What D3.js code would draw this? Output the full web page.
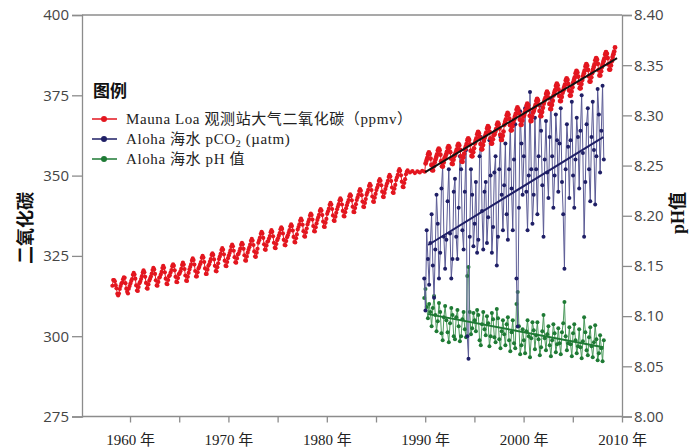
<!DOCTYPE html>
<html>
<head>
<meta charset="utf-8">
<script src="https://cdn.jsdelivr.net/npm/d3@7"></script>
<style>
  body { margin: 0; background: #fff; }
  svg { display: block; }
  .tick-label { font-family: "Open Sans", "Liberation Sans", sans-serif; font-size: 15px; fill: #454545; }
  .year-label { font-family: "Liberation Serif", "Noto Sans CJK SC", serif; font-size: 15px; fill: #222; }
  .legend-text { font-family: "Liberation Serif", "Noto Sans CJK SC", serif; font-size: 15px; fill: #222; letter-spacing: 0.6px; }
</style>
</head>
<body>
<div id="chart"></div>
<script>
// Mauna Loa monthly CO2 (ppmv), Mar 1958 .. Mar 1988
const co2Start1 = 1958 + 2 / 12;
const co2Monthly1 = [
  315.7, 317.5, 317.5, 317.1, 315.9, 314.9, 313.2, 312.7, 313.3, 314.7,
  315.6, 316.4, 316.7, 317.7, 318.3, 318.2, 316.5, 314.8, 313.8, 313.3, 314.8, 315.6,
  316.4, 317.2, 317.8, 319.1, 319.7, 319.2, 317.9, 315.8, 314.2, 314.1, 315.3, 316.5,
  317.0, 317.8, 318.7, 319.8, 320.5, 319.9, 318.5, 316.6, 314.9, 314.8, 316.1, 317.3,
  317.9, 318.6, 319.5, 320.6, 321.3, 320.8, 319.4, 317.4, 315.8, 315.7, 316.9, 318.2,
  318.4, 319.2, 320.0, 321.2, 321.9, 321.3, 319.9, 317.9, 316.3, 316.2, 317.5, 318.7,
  319.0, 319.8, 320.6, 321.8, 322.4, 321.9, 320.5, 318.5, 316.9, 316.8, 318.1, 319.3,
  319.5, 320.2, 321.0, 322.2, 322.9, 322.3, 320.9, 318.9, 317.3, 317.2, 318.5, 319.7,
  320.8, 321.6, 322.4, 323.6, 324.2, 323.7, 322.3, 320.3, 318.6, 318.6, 319.9, 321.1,
  321.6, 322.4, 323.1, 324.4, 325.0, 324.5, 323.1, 321.1, 319.4, 319.4, 320.7, 321.9,
  322.4, 323.2, 324.0, 325.3, 325.8, 325.3, 323.9, 321.9, 320.3, 320.2, 321.5, 322.7,
  324.0, 324.8, 325.6, 326.8, 327.4, 326.9, 325.5, 323.5, 321.9, 321.8, 323.1, 324.3,
  325.1, 325.9, 326.7, 327.9, 328.5, 328.0, 326.6, 324.6, 323.0, 322.9, 324.2, 325.4,
  325.7, 326.5, 327.3, 328.5, 329.1, 328.6, 327.2, 325.2, 323.6, 323.5, 324.8, 326.0,
  326.9, 327.7, 328.5, 329.7, 330.3, 329.8, 328.4, 326.4, 324.8, 324.7, 326.0, 327.2,
  329.1, 329.9, 330.7, 331.9, 332.5, 332.0, 330.6, 328.6, 327.0, 326.9, 328.2, 329.4,
  329.6, 330.4, 331.2, 332.4, 333.0, 332.5, 331.1, 329.1, 327.5, 327.4, 328.7, 329.9,
  330.5, 331.3, 332.1, 333.3, 333.9, 333.4, 332.0, 330.0, 328.4, 328.3, 329.6, 330.8,
  331.4, 332.2, 333.0, 334.2, 334.8, 334.3, 332.9, 330.9, 329.3, 329.2, 330.5, 331.7,
  333.2, 334.0, 334.8, 336.0, 336.6, 336.1, 334.7, 332.7, 331.1, 331.0, 332.3, 333.5,
  334.8, 335.6, 336.4, 337.6, 338.2, 337.7, 336.3, 334.3, 332.7, 332.6, 333.9, 335.1,
  336.2, 337.0, 337.8, 339.0, 339.6, 339.1, 337.7, 335.7, 334.1, 334.0, 335.3, 336.5,
  338.1, 338.9, 339.7, 340.9, 341.5, 341.0, 339.6, 337.6, 336.0, 335.9, 337.2, 338.4,
  339.5, 340.3, 341.1, 342.3, 342.9, 342.4, 341.0, 339.0, 337.4, 337.3, 338.6, 339.8,
  340.8, 341.6, 342.4, 343.6, 344.2, 343.7, 342.3, 340.3, 338.7, 338.6, 339.9, 341.1,
  342.4, 343.2, 344.0, 345.2, 345.8, 345.3, 343.9, 341.9, 340.3, 340.2, 341.5, 342.7,
  344.0, 344.8, 345.6, 346.8, 347.4, 346.9, 345.5, 343.5, 341.9, 341.8, 343.1, 344.3,
  345.5, 346.3, 347.1, 348.3, 348.9, 348.4, 347.0, 345.0, 343.4, 343.3, 344.6, 345.8,
  346.8, 347.6, 348.4, 349.6, 350.2, 349.7, 348.3, 346.3, 344.7, 344.6, 345.9, 347.1,
  348.6, 349.4, 350.2, 351.4, 352.0, 351.5, 350.1, 348.1, 346.5, 346.4, 347.7, 348.9,
  350.4, 351.2, 351.6
];
// sparse flat stretch 1988-1990
const co2GapYears = [1988.45, 1988.7, 1988.95, 1989.2, 1989.45, 1989.7, 1989.95];
const co2GapValues = [351.0, 351.4, 350.8, 351.3, 351.0, 351.5, 351.2];
// Mauna Loa monthly CO2, Jan 1990 .. Apr 2009
const co2Start2 = 1990 + 0.5 / 12;
const co2Monthly2 = [
  353.8, 354.6, 355.4, 356.6, 357.2, 356.7, 355.3, 353.3, 351.7, 351.6, 352.9, 354.1,
  355.0, 355.8, 356.6, 357.8, 358.4, 357.9, 356.5, 354.5, 352.9, 352.8, 354.1, 355.3,
  355.8, 356.6, 357.4, 358.6, 359.2, 358.7, 357.3, 355.3, 353.7, 353.6, 354.9, 356.1,
  356.5, 357.3, 358.1, 359.3, 359.9, 359.4, 358.0, 356.0, 354.4, 354.3, 355.6, 356.8,
  358.2, 359.0, 359.8, 361.0, 361.6, 361.1, 359.7, 357.7, 356.1, 356.0, 357.3, 358.5,
  360.0, 360.8, 361.6, 362.9, 363.6, 363.1, 361.8, 359.8, 358.2, 358.2, 359.5, 360.8,
  361.8, 362.6, 363.4, 364.7, 365.4, 364.9, 363.6, 361.6, 360.0, 360.0, 361.3, 362.6,
  362.9, 363.7, 364.5, 365.8, 366.5, 366.0, 364.7, 362.7, 361.1, 361.1, 362.4, 363.7,
  365.8, 366.7, 367.5, 368.8, 369.5, 369.0, 367.7, 365.7, 364.1, 364.1, 365.4, 366.7,
  367.5, 368.4, 369.2, 370.5, 371.2, 370.7, 369.4, 367.4, 365.8, 365.8, 367.1, 368.4,
  368.7, 369.6, 370.4, 371.7, 372.4, 371.9, 370.6, 368.6, 367.0, 367.0, 368.3, 369.6,
  370.2, 371.1, 371.9, 373.2, 373.9, 373.4, 372.1, 370.1, 368.5, 368.5, 369.8, 371.1,
  372.4, 373.3, 374.1, 375.4, 376.1, 375.6, 374.3, 372.3, 370.7, 370.7, 372.0, 373.3,
  374.9, 375.8, 376.6, 377.9, 378.6, 378.1, 376.8, 374.8, 373.2, 373.2, 374.5, 375.8,
  376.6, 377.5, 378.3, 379.6, 380.3, 379.8, 378.5, 376.5, 374.9, 374.9, 376.2, 377.5,
  378.9, 379.8, 380.6, 381.9, 382.6, 382.1, 380.8, 378.8, 377.2, 377.2, 378.5, 379.8,
  381.0, 381.9, 382.7, 384.0, 384.7, 384.2, 382.9, 380.9, 379.3, 379.3, 380.6, 381.9,
  382.9, 383.8, 384.6, 385.9, 386.6, 386.1, 384.8, 382.8, 381.2, 381.2, 382.5, 383.8,
  384.7, 385.6, 386.4, 387.7, 388.4, 387.9, 386.6, 384.6, 383.0, 383.0, 384.3, 385.6,
  386.9, 387.8, 388.6, 389.9
];

// Station ALOHA cruises (about 8 per year)
const alohaStart = 1989.9;
const alohaStep = 0.125;
const pco2 = [
  318, 308,
  333, 324, 316, 329, 338, 322, 312, 327,
  344, 335, 318, 326, 346, 353, 331, 321,
  330, 342, 352, 332, 318, 324, 345, 349,
  331, 324, 340, 356, 352, 333, 327, 345,
  358, 300, 293, 331, 352, 344, 328, 335,
  348, 326, 330, 356, 362, 339, 327, 345,
  348, 329, 337, 361, 350, 326, 334, 351,
  356, 322, 331, 352, 362, 344, 333, 347,
  360, 338, 330, 352, 366, 346, 333, 355,
  366, 318, 303, 340, 370, 360, 344, 356,
  371, 345, 333, 350, 376, 352, 335, 344,
  368, 352, 338, 356, 372, 364, 347, 331,
  355, 367, 351, 343, 362, 374, 356, 340,
  350, 369, 361, 345, 360, 371, 348, 338,
  321, 352, 366, 359, 343, 361, 373, 350,
  340, 355, 368, 362, 346, 364, 375, 357,
  331, 348, 366, 371, 352, 342, 362, 373,
  358, 341, 356, 377, 369, 351, 364, 378,
  355
];
const ph = [
  8.118, 8.127,
  8.109, 8.098, 8.112, 8.104, 8.090, 8.108, 8.120, 8.101,
  8.085, 8.095, 8.113, 8.104, 8.083, 8.076, 8.099, 8.110,
  8.096, 8.084, 8.074, 8.093, 8.108, 8.101, 8.080, 8.077,
  8.099, 8.106, 8.090, 8.075, 8.080, 8.097, 8.104, 8.087,
  8.079, 8.140, 8.149, 8.104, 8.082, 8.088, 8.103, 8.096,
  8.085, 8.106, 8.101, 8.076, 8.071, 8.092, 8.104, 8.087,
  8.081, 8.100, 8.093, 8.070, 8.080, 8.103, 8.097, 8.079,
  8.074, 8.107, 8.098, 8.077, 8.068, 8.085, 8.096, 8.082,
  8.071, 8.092, 8.099, 8.076, 8.065, 8.084, 8.096, 8.073,
  8.068, 8.112, 8.124, 8.090, 8.062, 8.071, 8.087, 8.076,
  8.063, 8.085, 8.096, 8.080, 8.059, 8.078, 8.094, 8.086,
  8.067, 8.081, 8.094, 8.077, 8.061, 8.069, 8.085, 8.101,
  8.078, 8.066, 8.082, 8.090, 8.071, 8.060, 8.076, 8.092,
  8.083, 8.064, 8.072, 8.088, 8.073, 8.062, 8.084, 8.093,
  8.114, 8.080, 8.066, 8.073, 8.089, 8.072, 8.060, 8.083,
  8.092, 8.076, 8.063, 8.070, 8.087, 8.069, 8.058, 8.075,
  8.099, 8.084, 8.066, 8.061, 8.079, 8.089, 8.070, 8.059,
  8.074, 8.091, 8.077, 8.056, 8.063, 8.081, 8.068, 8.055,
  8.076
];

// linear trends (end points)
const trendCo2Years = [1990.0, 2009.5];
const trendCo2 = [351.1, 386.6];
const trendPco2Years = [1990.3, 2008.1];
const trendPco2 = [328.4, 362.0];
const trendPhYears = [1990.3, 2008.1];
const trendPh = [8.102, 8.069];

const leftTicks = [275, 300, 325, 350, 375, 400];
const rightTicks = [8.00, 8.05, 8.10, 8.15, 8.20, 8.25, 8.30, 8.35, 8.40];
const yearTicks = [1960, 1970, 1980, 1990, 2000, 2010];
const minorYearTicks = [1960, 1965, 1970, 1975, 1980, 1985, 1990, 1995, 2000, 2005, 2010];

const legendLabels = ["Mauna Loa 观测站大气二氧化碳（ppmv）", "Aloha 海水 pCO", "Aloha 海水 pH 值"];

const red = "#e3161f", navy = "#1f1f66", navyLine = "#5b5b95", green = "#1e7a34", greenLine = "#4b9a5c";
const axisGray = "#8c8c8c";

const width = 690, height = 447;
const svg = d3.select("#chart").append("svg")
    .attr("width", width)
    .attr("height", height);

const x = d3.scaleLinear().domain([1955.12, 2010]).range([82, 622]);
const yL = d3.scaleLinear().domain([275, 400]).range([416.5, 15]);
const yR = d3.scaleLinear().domain([8.0, 8.4]).range([416.5, 15]);

// build point lists
const co2A = co2Monthly1.map((v, i) => [co2Start1 + (i + 0.5) / 12, v]);
const co2Gap = co2GapYears.map((t, i) => [t, co2GapValues[i]]);
const co2B = co2Monthly2.map((v, i) => [co2Start2 + i / 12, v]);
const co2All = co2A.concat(co2Gap, co2B);
const pco2Pts = pco2.map((v, i) => [alohaStart + i * alohaStep, v]);
const phPts = ph.map((v, i) => [alohaStart + i * alohaStep, v]);

const lineL = d3.line().x(d => x(d[0])).y(d => yL(d[1]));
const lineR = d3.line().x(d => x(d[0])).y(d => yR(d[1]));

// frame: top line
svg.append("line")
    .attr("x1", x(1955.12)).attr("x2", x(2010))
    .attr("y1", yL(400)).attr("y2", yL(400))
    .attr("stroke", axisGray).attr("stroke-width", 1.3);

// pH series (drawn first, sits under pCO2)
svg.append("path")
    .datum(phPts)
    .attr("d", lineR)
    .attr("fill", "none")
    .attr("stroke", greenLine)
    .attr("stroke-width", 1);
svg.append("g").selectAll("circle")
    .data(phPts)
    .enter().append("circle")
    .attr("cx", d => x(d[0]))
    .attr("cy", d => yR(d[1]))
    .attr("r", 2)
    .attr("fill", green);

// pCO2 series
svg.append("path")
    .datum(pco2Pts)
    .attr("d", lineL)
    .attr("fill", "none")
    .attr("stroke", navyLine)
    .attr("stroke-width", 1);
svg.append("g").selectAll("circle")
    .data(pco2Pts)
    .enter().append("circle")
    .attr("cx", d => x(d[0]))
    .attr("cy", d => yL(d[1]))
    .attr("r", 2)
    .attr("fill", navy);

// Mauna Loa CO2
svg.append("path")
    .datum(co2All)
    .attr("d", lineL)
    .attr("fill", "none")
    .attr("stroke", red)
    .attr("stroke-width", 1);
svg.append("g").selectAll("circle")
    .data(co2All)
    .enter().append("circle")
    .attr("cx", d => x(d[0]))
    .attr("cy", d => yL(d[1]))
    .attr("r", d => d[0] >= 1990 ? 2.4 : 2.1)
    .attr("fill", red);

// trend lines
svg.append("path")
    .datum(trendPhYears.map((t, i) => [t, trendPh[i]]))
    .attr("d", lineR)
    .attr("stroke", green).attr("stroke-width", 2).attr("fill", "none");
svg.append("path")
    .datum(trendPco2Years.map((t, i) => [t, trendPco2[i]]))
    .attr("d", lineL)
    .attr("stroke", navy).attr("stroke-width", 2).attr("fill", "none");
svg.append("path")
    .datum(trendCo2Years.map((t, i) => [t, trendCo2[i]]))
    .attr("d", lineL)
    .attr("stroke", "#111").attr("stroke-width", 2).attr("fill", "none");

// left axis
const gL = svg.append("g")
    .attr("transform", "translate(" + x(1955.12) + ",0)")
    .call(d3.axisLeft(yL).tickValues(leftTicks).tickSize(10).tickPadding(3).tickFormat(d3.format("d")));
// right axis
const gR = svg.append("g")
    .attr("transform", "translate(" + x(2010) + ",0)")
    .call(d3.axisRight(yR).tickValues(rightTicks).tickSize(10).tickPadding(2).tickFormat(d3.format(".2f")));
// bottom axis
const gB = svg.append("g")
    .attr("transform", "translate(0," + yL(275) + ")")
    .call(d3.axisBottom(x).tickValues(minorYearTicks).tickSize(6).tickFormat(""));
svg.append("g")
    .attr("transform", "translate(0," + yL(275) + ")")
    .call(d3.axisBottom(x).tickValues(yearTicks).tickSize(0).tickPadding(18).tickFormat(d => d + " 年"))
    .call(g => g.select(".domain").remove())
    .selectAll("text").attr("class", "year-label").attr("fill", null).attr("font-size", null).attr("font-family", null);

[gL, gR, gB].forEach(g => {
    g.select(".domain").attr("stroke", axisGray).attr("stroke-width", 1.3);
    g.selectAll(".tick line").attr("stroke", axisGray).attr("stroke-width", 1.3);
    g.selectAll(".tick text").attr("class", "tick-label").attr("fill", null).attr("font-size", null).attr("font-family", null);
});
gB.select(".domain").attr("d", "M" + x(1955.12) + ",0H" + x(2010));

// axis titles
svg.append("text")
    .attr("transform", "translate(32,228) rotate(-90)")
    .attr("text-anchor", "middle")
    .style("font-family", "'Noto Sans CJK SC', sans-serif")
    .style("font-weight", "bold")
    .style("font-size", "18px")
    .style("fill", "#111")
    .text("二氧化碳");
svg.append("text")
    .attr("transform", "translate(684,213) rotate(-90)")
    .attr("text-anchor", "middle")
    .style("font-family", "'Liberation Serif', 'Noto Sans CJK SC', serif")
    .style("font-weight", "bold")
    .style("font-size", "18px")
    .style("fill", "#111")
    .text("pH值");

// legend
const legend = svg.append("g").attr("transform", "translate(92,0)");
legend.append("text")
    .attr("x", 1).attr("y", 97)
    .style("font-family", "'Noto Sans CJK SC', sans-serif")
    .style("font-weight", "bold")
    .style("font-size", "17px")
    .style("fill", "#111")
    .text("图例");
const legendColors = [[red, red], [navy, navyLine], [green, greenLine]];
const legendY = [119, 139, 159];
legendLabels.forEach((label, i) => {
    const row = legend.append("g").attr("transform", "translate(0," + legendY[i] + ")");
    row.append("line").attr("x1", 0).attr("x2", 25).attr("y1", 0).attr("y2", 0)
        .attr("stroke", legendColors[i][0]).attr("stroke-width", 1.5);
    row.append("circle").attr("cx", 12).attr("cy", 0).attr("r", 3).attr("fill", legendColors[i][0]);
    const t = row.append("text").attr("class", "legend-text").attr("x", 34).attr("y", 5).text(label);
    if (i === 1) {
        t.append("tspan").attr("dy", 3).style("font-size", "10px").text("2");
        t.append("tspan").attr("dy", -3).text(" (µatm)");
    }
});
</script>
</body>
</html>
